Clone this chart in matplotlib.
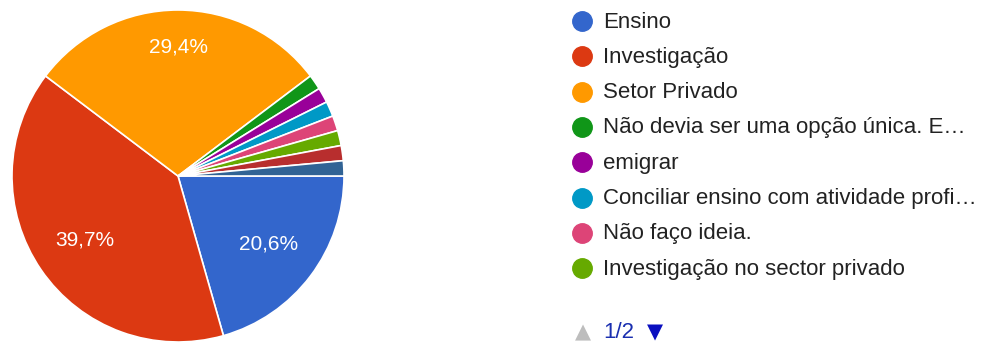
import numpy as np
import matplotlib.pyplot as plt

plt.rcParams['font.family'] = ['Liberation Sans', 'DejaVu Sans']

# respostas (68 no total); as duas últimas estão na página 2 da legenda
categories = ["Ensino", "Investigação", "Setor Privado",
              "Não devia ser uma opção única. E…", "emigrar",
              "Conciliar ensino com atividade profi…", "Não faço ideia.",
              "Investigação no sector privado", "", ""]
counts = [14, 27, 20, 1, 1, 1, 1, 1, 1, 1]
pct_labels = ["20,6%", "39,7%", "29,4%"]
colors = ["#3366cc", "#dc3912", "#ff9900", "#109618", "#990099",
          "#0099c6", "#dd4477", "#66aa00", "#b82e2e", "#316395"]
legend_shown = 8
page_text = "1/2"

W, H = 993, 345
fig = plt.figure(figsize=(W / 100, H / 100), dpi=100)

# pie axes: centre (178,176), radius 166 px
cx, cy, r = 178, 176, 166
ax = fig.add_axes([(cx - r) / W, (H - cy - r) / H, 2 * r / W, 2 * r / H])
wedges, _ = ax.pie(counts, colors=colors, startangle=0, counterclock=False,
                   wedgeprops=dict(edgecolor="white", linewidth=1.2))
ax.set_xlim(-1, 1)
ax.set_ylim(-1, 1)
ax.set_aspect("equal")
ax.axis("off")

label_dist = [0.68, 0.68, 0.78]
for w, lab, d in zip(wedges, pct_labels, label_dist):
    ang = np.deg2rad((w.theta1 + w.theta2) / 2)
    ax.text(d * np.cos(ang), d * np.sin(ang), lab, color="white",
            fontsize=15, ha="center", va="center")

# legend drawn in pixel coordinates
lax = fig.add_axes([0, 0, 1, 1])
lax.set_xlim(0, W)
lax.set_ylim(H, 0)
lax.axis("off")
y0, dy = 21, 35.3
for i in range(legend_shown):
    y = y0 + i * dy
    lax.plot(582, y, "o", color=colors[i], markersize=14)
    lax.text(603, y + 1, categories[i], fontsize=16, color="#222222",
             ha="left", va="center")

lax.text(583, 332, "▲", family="DejaVu Sans", fontsize=15, color="#bdbdbd",
         ha="center", va="center")
lax.text(603, 333, page_text, fontsize=16, color="#1a2fb0",
         ha="left", va="center")
lax.text(655, 332, "▼", family="DejaVu Sans", fontsize=15, color="#0a0fc0",
         ha="center", va="center")

fig.savefig("out.png", dpi=100)
